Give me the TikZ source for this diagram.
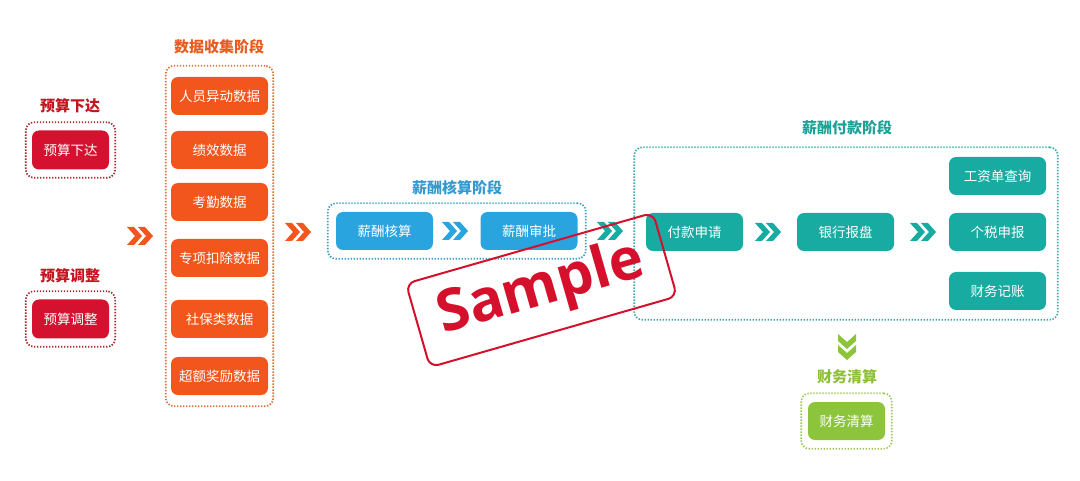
\documentclass[tikz,border=0pt]{standalone}
\usepackage{fontspec}
\setmainfont{Noto Sans CJK SC}
\newfontfamily\stampfont{Open Sans}
\usetikzlibrary{fit}
\definecolor{budred}{HTML}{D41230}
\definecolor{budttl}{HTML}{C3141F}
\definecolor{budgrp}{HTML}{A8262C}
\definecolor{datorg}{HTML}{F2561D}
\definecolor{datttl}{HTML}{E85B1E}
\definecolor{datgrp}{HTML}{D8703E}
\definecolor{calblu}{HTML}{2AA4DE}
\definecolor{calttl}{HTML}{3399CF}
\definecolor{calgrp}{HTML}{3C9CC6}
\definecolor{payteal}{HTML}{17ABA1}
\definecolor{payttl}{HTML}{1BA197}
\definecolor{paygrp}{HTML}{3AA9A6}
\definecolor{finlgrn}{HTML}{8CC43C}
\definecolor{finttl}{HTML}{8DBF38}
\definecolor{fingrp}{HTML}{9CC45A}
\definecolor{stampred}{HTML}{D5102C}
\begin{document}
\begin{tikzpicture}[x=1pt,y=-1pt,
    box/.style={rounded corners=7pt,minimum width=97pt,minimum height=38pt,inner sep=0pt,text=white,font=\fontsize{13.5}{13.5}\selectfont},
    grp/.style={draw,rounded corners=8pt,line width=1.7pt,dash pattern=on 1.4pt off 1.6pt,inner sep=0pt},
    ttl/.style={font=\fontsize{15}{15}\selectfont\bfseries},
    dchev/.pic={\foreach \s in {0,11}{\fill[#1] (\s-13,-9) -- ++(7,0) -- ++(8,9) -- ++(-8,9) -- ++(-7,0) -- ++(8,-9) -- cycle;}}]
    \useasboundingbox (0,0) rectangle (1080,481);

    \node[ttl,text=budttl] (tbud1) at (70,106) {预算下达};
    \node[box,fill=budred,minimum width=77pt,minimum height=39pt] (bud1) at (70.5,150) {预算下达};
    \node[grp,draw=budgrp,fit=(bud1),inner xsep=6pt,inner ysep=8pt] (gbud1) {};
    \node[ttl,text=budttl] (tbud2) at (70,276) {预算调整};
    \node[box,fill=budred,minimum width=77pt,minimum height=39pt] (bud2) at (70.5,319) {预算调整};
    \node[grp,draw=budgrp,fit=(bud2),inner xsep=6pt,inner ysep=8pt] (gbud2) {};

    \pic at (140,236) {dchev=datorg};

    \node[ttl,text=datttl] (tdat) at (219,47) {数据收集阶段};
    \foreach \t/\y [count=\i] in {人员异动数据/96,绩效数据/150,考勤数据/202,专项扣除数据/258,社保类数据/319,超额奖励数据/376}{
        \node[box,fill=datorg] (dat\i) at (219.5,\y) {\t};
    }
    \node[grp,draw=datgrp,fit=(dat1)(dat6),inner xsep=5pt,inner ysep=11pt] (gdat) {};

    \pic at (298,232) {dchev=datorg};

    \node[ttl,text=calttl] (tcal) at (457,188) {薪酬核算阶段};
    \node[box,fill=calblu] (cal1) at (384.5,231) {薪酬核算};
    \node[box,fill=calblu] (cal2) at (529,231) {薪酬审批};
    \node[grp,draw=calgrp,fit=(cal1)(cal2),inner xsep=8pt,inner ysep=8.5pt] (gcal) {};
    \pic at (455,231) {dchev=calblu};

    \pic at (610,231) {dchev=payteal};

    \node[ttl,text=payttl] (tpay) at (847,128) {薪酬付款阶段};
    \node[box,fill=payteal] (pay1) at (694.5,232) {付款申请};
    \node[box,fill=payteal] (pay2) at (845.5,232) {银行报盘};
    \foreach \t/\y [count=\i] in {工资单查询/176,个税申报/232,财务记账/291}{
        \node[box,fill=payteal] (out\i) at (997.5,\y) {\t};
    }
    \node[grp,draw=paygrp,fit=(pay1)(out1)(out3),inner xsep=11.5pt,inner ysep=9.5pt] (gpay) {};
    \pic at (768,232) {dchev=payteal};
    \pic at (923,232) {dchev=payteal};

    \pic[rotate=-90] at (847,347) {dchev=finlgrn};
    \node[ttl,text=finttl] (tfin) at (847,377) {财务清算};
    \node[box,fill=finlgrn,minimum width=77pt] (fin) at (846.5,421) {财务清算};
    \node[grp,draw=fingrp,fit=(fin),inner xsep=6.5pt,inner ysep=8.5pt] (gfin) {};

    \node[draw=stampred,line width=2pt,rounded corners=9pt,minimum width=257pt,minimum height=87pt,rotate=16,text=stampred,font=\stampfont\bfseries\fontsize{58}{58}\selectfont] (stamp) at (541.5,290) {Sample};
\end{tikzpicture}
\end{document}
